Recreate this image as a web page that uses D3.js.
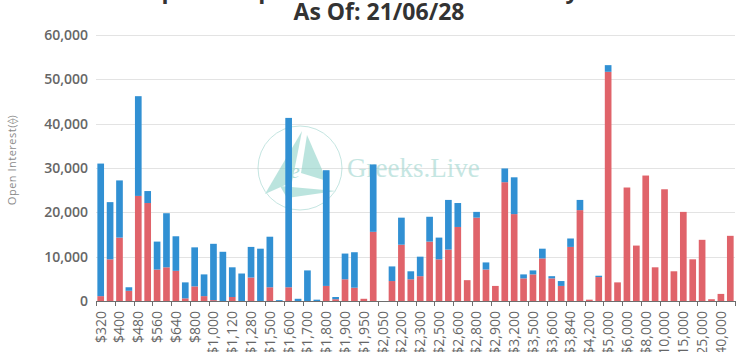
<!DOCTYPE html>
<html>
<head>
<meta charset="utf-8">
<script src="https://cdn.jsdelivr.net/npm/d3@7"></script>
<style>
  body { margin: 0; background: #fff; }
  svg { display: block; font-family: "Open Sans", sans-serif; }
</style>
</head>
<body>
<div id="chart"></div>
<script>
// strikes (odd ones are hidden on the axis)
var strikes = ["$320", "$360", "$400", "$440", "$480", "$520", "$560", "$600", "$640", "$720",
    "$800", "$880", "$1,000", "$1,040", "$1,120", "$1,200", "$1,280", "$1,400", "$1,500", "$1,550",
    "$1,600", "$1,650", "$1,700", "$1,750", "$1,800", "$1,850", "$1,900", "$1,920", "$1,950", "$2,000",
    "$2,050", "$2,100", "$2,200", "$2,250", "$2,300", "$2,400", "$2,500", "$2,550", "$2,600", "$2,700",
    "$2,800", "$2,850", "$2,900", "$3,000", "$3,200", "$3,400", "$3,500", "$3,550", "$3,600", "$3,800",
    "$3,840", "$4,000", "$4,200", "$4,400", "$5,000", "$5,500", "$6,000", "$7,000", "$8,000", "$9,000",
    "$10,000", "$12,000", "$15,000", "$20,000", "$25,000", "$30,000", "$40,000", "$50,000"];

// bottom (red) segment
var redValues = [1100, 9400, 14300, 2300, 23700, 22100, 7100, 7600, 6800, 600,
    3300, 1100, 200, 0, 900, 0, 5300, 0, 3100, 0,
    3100, 0, 0, 0, 3400, 400, 4900, 3000, 500, 15600,
    0, 4500, 12700, 4900, 5600, 13400, 9400, 11600, 16700, 4700,
    18800, 7100, 3400, 26800, 19600, 5100, 6000, 9600, 5100, 3400,
    12200, 20500, 300, 5400, 51700, 4200, 25600, 12500, 28300, 7600,
    25200, 6700, 20100, 9400, 13800, 400, 1600, 14700];

// top (blue) segment
var blueValues = [29900, 12900, 12900, 800, 22500, 2700, 6300, 12200, 7800, 3600,
    8800, 4900, 12700, 11100, 6700, 6200, 6900, 11800, 11400, 200,
    38200, 500, 6900, 300, 26100, 500, 5800, 8000, 0, 15200,
    0, 3300, 6100, 1800, 4400, 5600, 4900, 11200, 5400, 0,
    1300, 1600, 0, 3100, 8300, 900, 900, 2200, 500, 1100,
    1900, 2300, 0, 300, 1500, 0, 0, 0, 0, 0,
    0, 0, 0, 0, 0, 0, 0, 0];

var yTicks = [0, 10000, 20000, 30000, 40000, 50000, 60000];

var W = 746, H = 352;
var plotLeft = 96, plotRight = 735, plotTop = 35, plotBottom = 301;

var svg = d3.select("#chart").append("svg")
    .attr("width", W)
    .attr("height", H);

var x = d3.scaleBand()
    .domain(strikes)
    .range([plotLeft, plotRight])
    .paddingInner(0.29)
    .paddingOuter(0.145);

var y = d3.scaleLinear()
    .domain([0, 60000])
    .range([plotBottom, plotTop]);

// title (first line is cut off at the top)
svg.append("text")
    .attr("x", 373)
    .attr("y", -2)
    .attr("text-anchor", "middle")
    .style("font-size", "23px")
    .style("font-weight", "bold")
    .style("fill", "#333")
    .text("ETH Options Open Interest Distribution By Strike");

svg.append("text")
    .attr("x", 379)
    .attr("y", 20)
    .attr("text-anchor", "middle")
    .style("font-size", "23px")
    .style("font-weight", "bold")
    .style("fill", "#333")
    .text("As Of: 21/06/28");

// grid
svg.append("g").selectAll("line")
    .data(yTicks.slice(1))
    .enter()
    .append("line")
    .attr("x1", plotLeft)
    .attr("x2", plotRight)
    .attr("y1", function (d) { return Math.round(y(d)) + 0.5; })
    .attr("y2", function (d) { return Math.round(y(d)) + 0.5; })
    .style("stroke", "#e3e3e3")
    .style("stroke-width", 1);

// watermark
var wm = svg.append("g").style("opacity", 0.6);
wm.append("circle")
    .attr("cx", 300)
    .attr("cy", 168)
    .attr("r", 42)
    .style("fill", "none")
    .style("stroke", "#9fd6cf")
    .style("stroke-width", 1);
wm.append("polygon")
    .attr("points", "302,131 265,194 292,182")
    .style("fill", "#8fd3c9");
wm.append("polygon")
    .attr("points", "307,135 327,181 301,173")
    .style("fill", "#8fd3c9");
wm.append("polygon")
    .attr("points", "280,186 336,191 287,198")
    .style("fill", "#8fd3c9");
wm.append("text")
    .attr("x", 295)
    .attr("y", 178)
    .attr("text-anchor", "middle")
    .style("font-family", "'Liberation Serif', serif")
    .style("font-style", "italic")
    .style("font-size", "22px")
    .style("fill", "#7fc9bf")
    .text("e");
wm.append("text")
    .attr("x", 347)
    .attr("y", 177)
    .style("font-family", "'Liberation Serif', serif")
    .style("font-size", "27px")
    .style("fill", "#9fd6cf")
    .text("Greeks.Live");

// stacked bars
var stacked = strikes.map(function (s, i) {
    return { strike: s, red: redValues[i], blue: blueValues[i] };
});

var series = d3.stack().keys(["red", "blue"])(stacked);
var colors = { red: "#e0636a", blue: "#3190d3" };

svg.append("g").selectAll("g")
    .data(series)
    .enter()
    .append("g")
    .style("fill", function (d) { return colors[d.key]; })
    .selectAll("rect")
    .data(function (d) { return d; })
    .enter()
    .append("rect")
    .attr("x", function (d) { return x(d.data.strike); })
    .attr("width", x.bandwidth())
    .attr("y", function (d) { return y(d[1]); })
    .attr("height", function (d) { return y(d[0]) - y(d[1]); });

// y axis labels
var yAxis = svg.append("g")
    .attr("transform", "translate(" + plotLeft + ",0)")
    .call(d3.axisLeft(y).tickValues(yTicks).tickFormat(d3.format(",")).tickSize(0).tickPadding(8));
yAxis.select(".domain").remove();
yAxis.selectAll("text")
    .style("font-family", "'Open Sans', sans-serif")
    .style("font-size", "14px")
    .style("font-weight", "600")
    .style("fill", "#666");

svg.append("text")
    .attr("transform", "translate(12,160) rotate(-90)")
    .attr("text-anchor", "middle")
    .attr("dy", "0.35em")
    .style("font-size", "11px")
    .style("letter-spacing", "0.5px")
    .style("fill", "#8a8a8a")
    .text("Open Interest(\u27E0)");

// x axis: ticks on band edges every second category
var edge = d3.scaleLinear().domain([0, strikes.length]).range([plotLeft, plotRight]);
var tickIdx = d3.range(0, strikes.length + 1, 2);

svg.append("line")
    .attr("x1", plotLeft)
    .attr("x2", plotRight)
    .attr("y1", plotBottom + 0.5)
    .attr("y2", plotBottom + 0.5)
    .style("stroke", "#6e6e6e");

svg.append("g").selectAll("line")
    .data(tickIdx)
    .enter()
    .append("line")
    .attr("x1", function (d) { return Math.round(edge(d)) + 0.5; })
    .attr("x2", function (d) { return Math.round(edge(d)) + 0.5; })
    .attr("y1", plotBottom)
    .attr("y2", plotBottom + 5)
    .style("stroke", "#6e6e6e");

svg.append("g").selectAll("text")
    .data(strikes.filter(function (d, i) { return i % 2 === 0; }))
    .enter()
    .append("text")
    .attr("transform", function (d) {
        return "translate(" + (x(d) + x.bandwidth() / 2) + "," + (plotBottom + 10) + ") rotate(-90)";
    })
    .attr("text-anchor", "end")
    .attr("dy", "0.35em")
    .style("font-size", "14px")
    .style("fill", "#666")
    .text(function (d) { return d; });
</script>
</body>
</html>
